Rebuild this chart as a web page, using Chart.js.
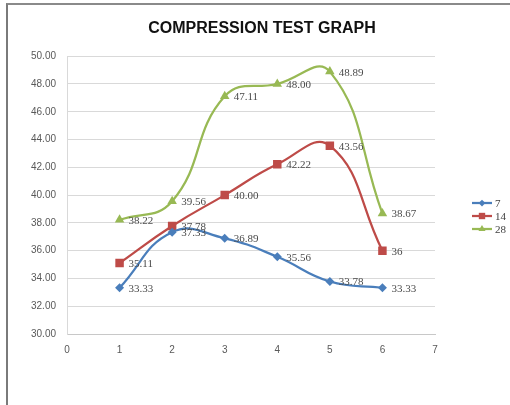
<!DOCTYPE html>
<html>
<head>
<meta charset="utf-8">
<script src="https://cdn.jsdelivr.net/npm/chart.js@4/dist/chart.umd.min.js"></script>
<style>
  html, body { margin: 0; padding: 0; background: #fff; overflow: hidden; width: 510px; height: 405px; }
  #frame { position: absolute; left: 6px; top: 3px; border-left: 2px solid #7a7a7a; border-top: 2px solid #8a8a8a; width: 508px; height: 400px; }
  canvas { display: block; }
</style>
</head>
<body>
<div id="frame"><canvas id="c" width="508" height="400"></canvas></div>
<script>
const titleText = 'COMPRESSION TEST GRAPH';
const xValues = [1, 2, 3, 4, 5, 6];
const seriesNames = ['7', '14', '28'];
const values7  = [33.33, 37.33, 36.89, 35.56, 33.78, 33.33];
const values14 = [35.11, 37.78, 40.00, 42.22, 43.56, 36];
const values28 = [38.22, 39.56, 47.11, 48.00, 48.89, 38.67];
const labels7  = ['33.33', '37.33', '36.89', '35.56', '33.78', '33.33'];
const labels14 = ['35.11', '37.78', '40.00', '42.22', '43.56', '36'];
const labels28 = ['38.22', '39.56', '47.11', '48.00', '48.89', '38.67'];
const xTickMin = 0, xTickMax = 7, yTickMin = 30, yTickMax = 50, yStep = 2;

const colors = ['#4A7EBB', '#BE4B48', '#98B954'];
const pointStyles = ['rectRot', 'rect', 'triangle'];
const pointRadii = [4.5, 6, 5.5];
const allValues = [values7, values14, values28];
const allLabels = [labels7, labels14, labels28];

const datasets = allValues.map((vals, i) => ({
  label: seriesNames[i],
  data: vals.map((v, j) => ({ x: xValues[j], y: v })),
  dataLabels: allLabels[i],
  yAxisID: 'y',
  borderColor: colors[i],
  backgroundColor: colors[i],
  borderWidth: 2.25,
  pointStyle: pointStyles[i],
  pointRadius: pointRadii[i],
  pointBorderWidth: 0,
  pointBackgroundColor: colors[i],
  tension: 0.45,
  fill: false
}));

const dataLabelPlugin = {
  id: 'dataLabels',
  afterDatasetsDraw(chart) {
    const ctx = chart.ctx;
    ctx.save();
    ctx.font = '11px "Liberation Serif", serif';
    ctx.fillStyle = '#4a4a4a';
    ctx.textAlign = 'left';
    ctx.textBaseline = 'middle';
    chart.data.datasets.forEach((ds, i) => {
      const meta = chart.getDatasetMeta(i);
      meta.data.forEach((pt, j) => {
        ctx.fillText(ds.dataLabels[j], pt.x + 9, pt.y + 1);
      });
    });
    ctx.restore();
  }
};

const sideLegendPlugin = {
  id: 'sideLegend',
  afterDraw(chart) {
    const ctx = chart.ctx;
    const area = chart.chartArea;
    const x0 = area.right + 37;
    const yMid = 211;
    ctx.save();
    chart.data.datasets.forEach((ds, i) => {
      const y = yMid + (i - 1) * 13;
      ctx.strokeStyle = ds.borderColor;
      ctx.lineWidth = 2.25;
      ctx.beginPath();
      ctx.moveTo(x0, y);
      ctx.lineTo(x0 + 20, y);
      ctx.stroke();
      ctx.fillStyle = ds.borderColor;
      Chart.helpers.drawPoint(ctx, { pointStyle: ds.pointStyle, radius: ds.pointRadius * 0.75, borderWidth: 0 }, x0 + 10, y);
      ctx.fillStyle = '#404040';
      ctx.font = '11px "Liberation Serif", serif';
      ctx.textAlign = 'left';
      ctx.textBaseline = 'middle';
      ctx.fillText(ds.label, x0 + 23, y + 1);
    });
    ctx.restore();
  }
};

new Chart(document.getElementById('c'), {
  type: 'line',
  data: { datasets },
  plugins: [dataLabelPlugin, sideLegendPlugin],
  options: {
    responsive: false,
    animation: false,
    layout: { padding: { left: 0, right: 0, top: 0, bottom: 0 } },
    plugins: {
      legend: { display: false },
      tooltip: { enabled: false },
      title: {
        display: true,
        text: titleText,
        color: '#111111',
        font: { family: '"Liberation Sans", Arial, sans-serif', size: 16, weight: 'bold', lineHeight: 1.2 },
        padding: { top: 14, bottom: 18 }
      }
    },
    scales: {
      x: {
        type: 'linear',
        min: xTickMin,
        max: xTickMax,
        afterFit(scale) { scale.height = 71; },
        ticks: { stepSize: 1, color: '#595959', padding: 10, font: { family: '"Liberation Sans", Arial, sans-serif', size: 10 } },
        grid: { display: false, drawTicks: false },
        border: { display: true, color: '#c8c8c8', width: 1 }
      },
      y: {
        min: yTickMin,
        max: yTickMax,
        afterFit(scale) { scale.width = 59; },
        ticks: { stepSize: yStep, color: '#595959', padding: 11, font: { family: '"Liberation Sans", Arial, sans-serif', size: 10 }, callback: v => v.toFixed(2) },
        grid: { color: '#d9d9d9', lineWidth: 1, drawTicks: false },
        border: { display: true, color: '#d9d9d9', width: 1 }
      },
      yRight: {
        position: 'right',
        min: yTickMin,
        max: yTickMax,
        afterFit(scale) { scale.width = 81; },
        ticks: { display: false },
        grid: { display: false, drawTicks: false },
        border: { display: false }
      }
    }
  }
});
</script>
</body>
</html>
